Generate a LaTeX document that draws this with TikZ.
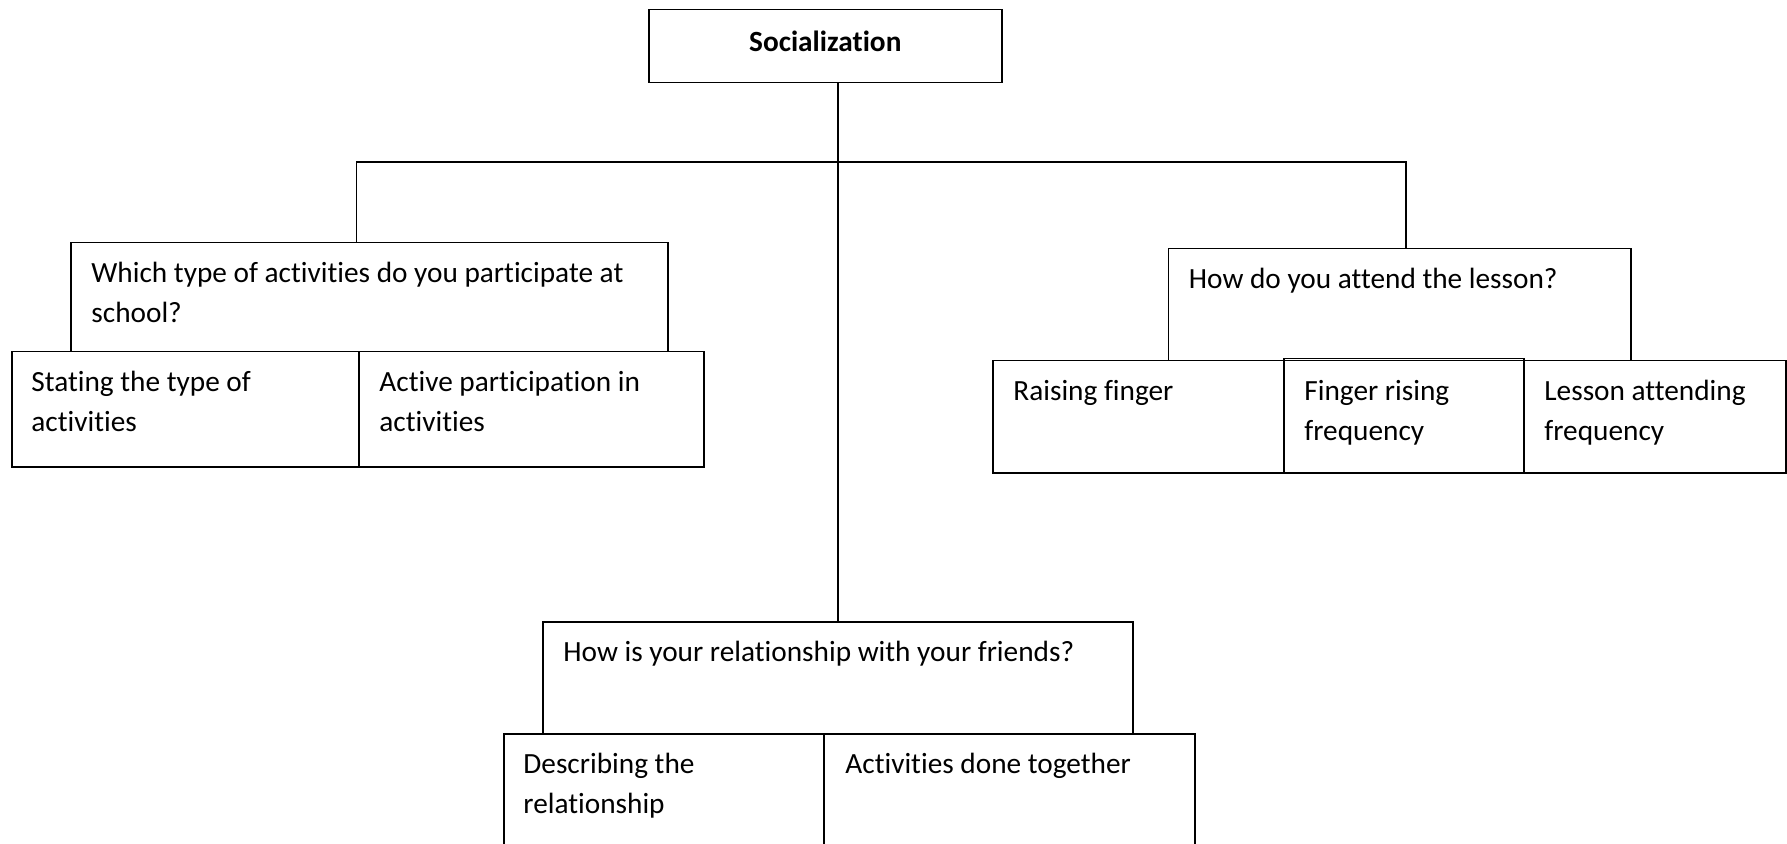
\documentclass[tikz,border=0pt]{standalone}
\usepackage{fontspec}
\setmainfont{Carlito}[Ligatures={NoCommon,NoRequired,NoContextual,NoRare}]
\newcommand\boxtopstrut{\rule{0pt}{20pt}}
\begin{document}
\begin{tikzpicture}[
  box/.style={draw=black, line width=0.75pt, rectangle, anchor=north west, inner sep=0pt},
  txt/.style={anchor=north west, inner sep=0pt, align=left,
    font=\fontsize{14.65pt}{20pt}\selectfont},
  link/.style={draw=black, line width=0.75pt}
]
\clip (0,0) rectangle (893.5pt,-422pt);
\useasboundingbox (0,0) rectangle (893.5pt,-422pt);

% root
\node[box, minimum width=176.5pt, minimum height=36.5pt] (soc) at (324pt,-4.5pt) {};
\node[anchor=center, inner sep=0pt, font=\fontsize{14.65pt}{20pt}\selectfont\bfseries]
  (soct) at ([yshift=2.25pt]soc.center) {Socialization};

% left branch
\node[box, minimum width=298.5pt, minimum height=54.5pt] (q1) at (35pt,-121pt) {};
\node[box, minimum width=173.5pt, minimum height=57.5pt] (s1) at (5.5pt,-175.5pt) {};
\node[box, minimum width=172.5pt, minimum height=57.5pt] (s2) at (179pt,-175.5pt) {};

% right branch
\node[box, minimum width=231.25pt, minimum height=56pt] (q2) at (583.75pt,-124pt) {};
\node[box, minimum width=145.5pt, minimum height=56pt] (r1) at (496pt,-180pt) {};
\node[box, minimum width=131pt, minimum height=56pt] (r3) at (761.5pt,-180pt) {};
\node[box, minimum width=120pt, minimum height=57pt] (r2) at (641.5pt,-179pt) {};

% middle branch
\node[box, minimum width=295pt, minimum height=56pt] (q3) at (271pt,-310.5pt) {};
\node[box, minimum width=160pt, minimum height=70pt] (b1) at (251.5pt,-366.5pt) {};
\node[box, minimum width=185.5pt, minimum height=70pt] (b2) at (411.5pt,-366.5pt) {};

% box texts
\node[txt] (q1t) at ([xshift=10.5pt]q1.north west) {\boxtopstrut Which type of activities do you participate at\\school?};
\node[txt] (s1t) at ([xshift=10pt]s1.north west) {\boxtopstrut Stating the type of\\activities};
\node[txt] (s2t) at ([xshift=10.5pt]s2.north west) {\boxtopstrut Active participation in\\activities};
\node[txt] (q2t) at ([xshift=10.5pt]q2.north west) {\boxtopstrut How do you attend the lesson?};
\node[txt] (r1t) at ([xshift=10.5pt]r1.north west) {\boxtopstrut Raising finger};
\node[txt] (r2t) at ([xshift=10.5pt,yshift=-1pt]r2.north west) {\boxtopstrut Finger rising\\frequency};
\node[txt] (r3t) at ([xshift=10.5pt]r3.north west) {\boxtopstrut Lesson attending\\frequency};
\node[txt] (q3t) at ([xshift=10.5pt]q3.north west) {\boxtopstrut How is your relationship with your friends?};
\node[txt] (b1t) at ([xshift=10pt]b1.north west) {\boxtopstrut Describing the\\relationship};
\node[txt] (b2t) at ([xshift=11pt]b2.north west) {\boxtopstrut Activities done together};

% connectors
\coordinate (jl) at (178.25pt,-81pt);
\coordinate (jr) at (703pt,-81pt);
\draw[link] (q3.north) -- (q3.north |- soc.south);
\draw[link] (q1.north -| jl) -- (jl) -- (jr) -- (q2.north -| jr);
\end{tikzpicture}
\end{document}
